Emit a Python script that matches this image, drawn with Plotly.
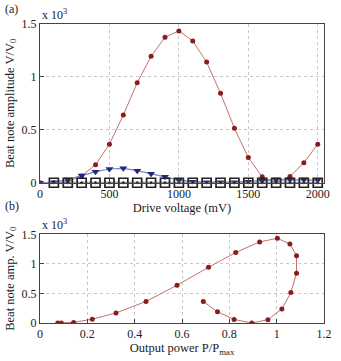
import plotly.graph_objects as go

# drive voltage (mV)
drive_mv = [0, 100, 200, 300, 400, 500, 600, 700, 800, 900, 1000,
            1100, 1200, 1300, 1400, 1500, 1600, 1700, 1800, 1900, 2000]
# beat note amplitude V/V0 (x 10^3), red series
beat_red = [0.0, 0.0, 0.01, 0.065, 0.17, 0.365, 0.64, 0.945, 1.195, 1.375, 1.435,
            1.34, 1.14, 0.845, 0.515, 0.238, 0.056, 0.0, 0.06, 0.19, 0.365]
# blue triangles
beat_blue = [0.0, 0.005, 0.03, 0.068, 0.105, 0.13, 0.136, 0.114, 0.086, 0.056, 0.025,
             0.01, 0.005, 0.005, 0.005, 0.01, 0.02, 0.03, 0.03, 0.03, 0.025]
# black squares
sq_mv = [100, 200, 300, 400, 500, 600, 700, 800, 900, 1000,
         1100, 1200, 1300, 1400, 1500, 1600, 1700, 1800, 1900, 2000]
beat_black = [0.0] * len(sq_mv)
# output power P/Pmax for the red series
power = [0.075, 0.09, 0.142, 0.221, 0.321, 0.448, 0.579, 0.712, 0.827, 0.928, 1.003,
         1.056, 1.084, 1.084, 1.06, 1.022, 0.963, 0.895, 0.82, 0.75, 0.69]

RED_M = "#8b1c1c"
RED_L = "#c07070"
BLUE_M = "#1f2a7a"
BLUE_L = "#7f7fcc"
FONT = "Liberation Serif, Times New Roman, serif"

fig = go.Figure()

fig.add_trace(go.Scatter(x=drive_mv, y=beat_red, mode="lines+markers",
                         line=dict(color=RED_L, width=1),
                         marker=dict(color=RED_M, size=5, symbol="circle"),
                         xaxis="x", yaxis="y"))
fig.add_trace(go.Scatter(x=drive_mv, y=beat_blue, mode="lines+markers",
                         line=dict(color=BLUE_L, width=1.2),
                         marker=dict(color=BLUE_M, size=7, symbol="triangle-down"),
                         xaxis="x", yaxis="y"))
fig.add_trace(go.Scatter(x=sq_mv, y=beat_black, mode="lines+markers",
                         line=dict(color="#888888", width=2),
                         marker=dict(color="#222222", size=9, symbol="square-open-dot",
                                     line=dict(width=1.7)),
                         xaxis="x", yaxis="y", cliponaxis=False))
fig.add_trace(go.Scatter(x=power, y=beat_red, mode="lines+markers",
                         line=dict(color=RED_L, width=1),
                         marker=dict(color=RED_M, size=5, symbol="circle"),
                         xaxis="x2", yaxis="y2"))

ax = dict(showline=True, mirror=True, linecolor="#444444", linewidth=1,
          ticks="inside", ticklen=4, tickcolor="#444444",
          showgrid=True, gridcolor="#c8c8c8", griddash="dot", gridwidth=1,
          zeroline=False, tickfont=dict(family=FONT, size=12, color="#222"))

yticks = dict(tickvals=[0, 0.5, 1, 1.5], ticktext=["0", "0.5", "1", "1.5"])
TS = 12.5

fig.update_layout(
    width=341, height=361,
    margin=dict(l=38, r=9, t=24, b=32),
    paper_bgcolor="white", plot_bgcolor="white",
    showlegend=False,
    font=dict(family=FONT, size=12, color="#222"),
    xaxis=dict(ax, domain=[0, 1], range=[0, 2045], anchor="y",
               tickvals=[0, 500, 1000, 1500, 2000],
               title=dict(text="Drive voltage (mV)", standoff=2,
                          font=dict(family=FONT, size=TS))),
    yaxis=dict(ax, domain=[0.469, 1], range=[0, 1.5], anchor="x", **yticks,
               title=dict(text="Beat note amplitude V/V<sub>0</sub>", standoff=4,
                          font=dict(family=FONT, size=TS))),
    xaxis2=dict(ax, domain=[0, 1], range=[0, 1.2], anchor="y2",
                tickvals=[0, 0.2, 0.4, 0.6, 0.8, 1, 1.2],
                ticktext=["0", "0.2", "0.4", "0.6", "0.8", "1", "1.2"],
                title=dict(text="Output power P/P<sub>max</sub>", standoff=2,
                           font=dict(family=FONT, size=TS))),
    yaxis2=dict(ax, domain=[0, 0.296], range=[0, 1.5], anchor="x2", **yticks,
                title=dict(text="Beat note amp. V/V<sub>0</sub>", standoff=4,
                           font=dict(family=FONT, size=TS))),
    annotations=[
        dict(text="(a)", xref="paper", yref="paper", x=-0.13, y=1.08,
             xanchor="left", yanchor="top", showarrow=False,
             font=dict(family=FONT, size=12)),
        dict(text="(b)", xref="paper", yref="paper", x=-0.13, y=0.42,
             xanchor="left", yanchor="top", showarrow=False,
             font=dict(family=FONT, size=12)),
        dict(text="x 10<sup>3</sup>", xref="paper", yref="paper", x=0.0, y=1.0,
             xanchor="left", yanchor="bottom", showarrow=False,
             font=dict(family=FONT, size=12)),
        dict(text="x 10<sup>3</sup>", xref="paper", yref="paper", x=0.0, y=0.296,
             xanchor="left", yanchor="bottom", showarrow=False,
             font=dict(family=FONT, size=12)),
    ],
)

# page has a default 8px body margin; drop it so the figure sits at (0,0)
fig.write_html("out.html",
               config={"displayModeBar": False},
               post_script="document.body.style.margin='0';"
                           "document.body.style.overflow='hidden';")
